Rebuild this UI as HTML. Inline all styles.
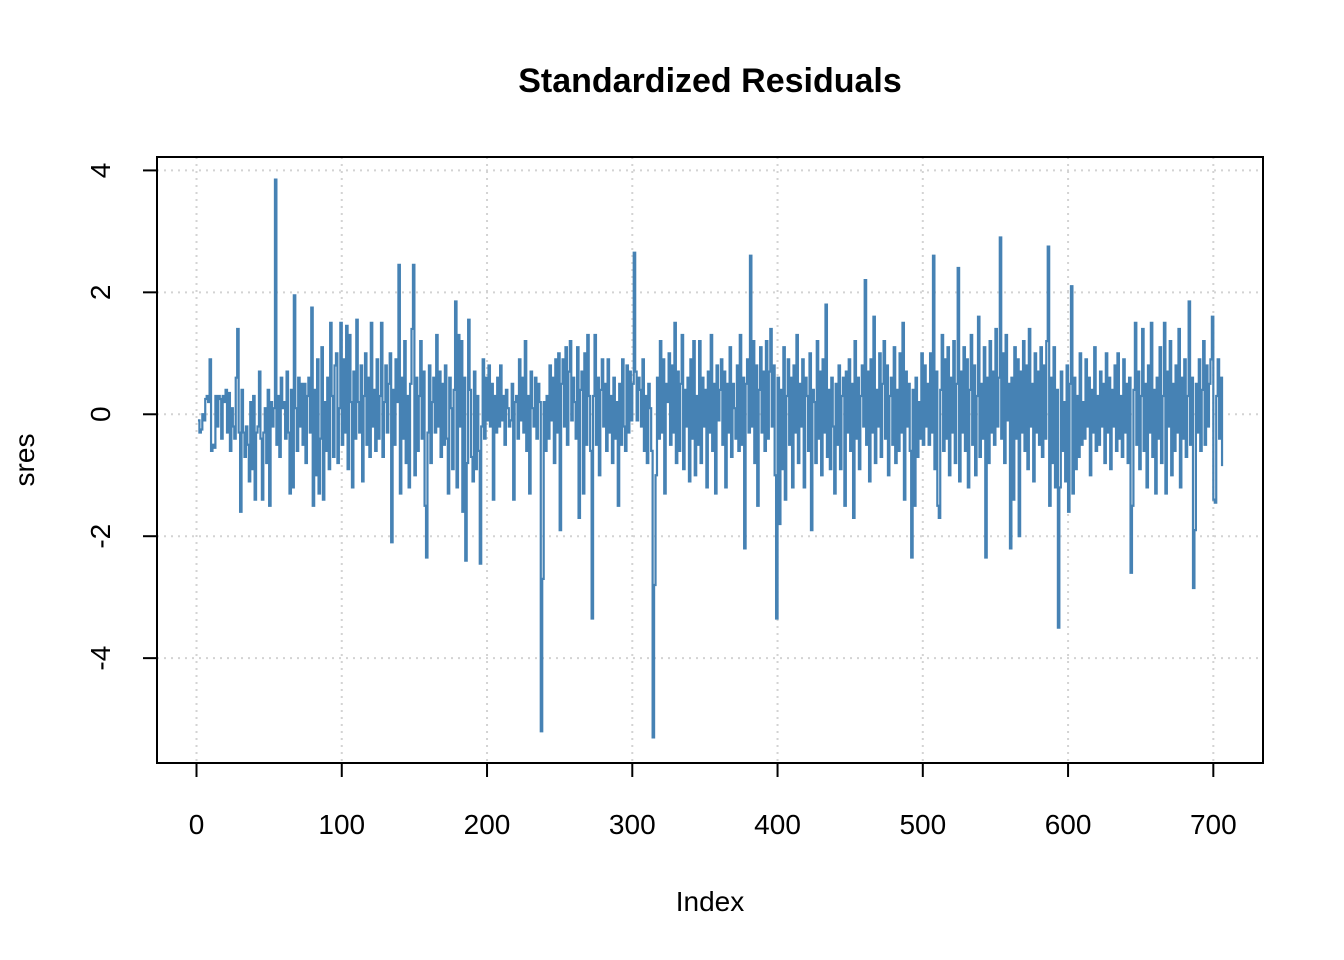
<!DOCTYPE html>
<html><head><meta charset="utf-8"><style>
body{margin:0;background:#fff;}
svg{display:block;font-family:"Liberation Sans",Arial,sans-serif;}
</style></head><body>
<svg id="chart" width="1344" height="960">
<text x="710" y="92" text-anchor="middle" font-size="34" font-weight="bold">Standardized Residuals</text>
<text x="710" y="911" text-anchor="middle" font-size="28">Index</text>
<text transform="translate(34,460) rotate(-90)" text-anchor="middle" font-size="28">sres</text>
<g id="grid"></g><g id="series"></g><g id="axes"></g>
<rect x="157" y="157" width="1106" height="606" fill="none" stroke="#000" stroke-width="2"/>
</svg>
<script>
const xTicks=[0,100,200,300,400,500,600,700];
const yTicks=[-4,-2,0,2,4];
const sres=[
-0.1,-0.3,-0.25,0.0,-0.1,0.25,0.3,0.2,0.9,-0.6,
-0.5,-0.55,0.3,-0.2,0.3,0.25,-0.4,0.3,0.2,0.4,
-0.3,0.35,-0.6,0.1,-0.2,-0.4,0.6,1.4,-0.3,-1.6,
0.4,-0.3,-0.7,-0.2,-0.5,-1.1,0.2,-0.9,0.3,-1.4,
-0.3,-0.2,0.7,-0.4,-1.4,-0.3,0.1,-0.8,0.4,-1.5,
0.2,-0.2,0.1,3.85,-0.5,0.3,-0.7,0.6,0.1,0.2,
-0.4,0.7,-0.3,-1.3,0.4,-1.2,1.95,0.1,-0.6,0.6,
-0.2,0.5,-0.5,0.5,-0.8,0.3,0.6,-0.3,1.75,-1.5,
0.4,-1.0,0.9,-1.3,-0.4,1.1,-1.4,0.2,-0.6,0.6,
-0.9,1.5,0.3,-0.7,0.8,1.0,-0.8,0.1,1.5,-0.5,
0.9,-0.3,1.45,-0.9,1.3,0.2,-1.2,0.7,-0.4,1.55,
0.2,-0.3,0.8,-1.1,0.3,1.0,-0.5,0.6,-0.7,1.5,
-0.2,0.4,-0.6,0.9,-0.4,0.3,1.5,-0.7,0.2,0.8,
-0.3,0.5,1.0,-2.1,0.4,-0.5,0.9,0.2,2.45,-1.3,
0.6,-0.4,1.2,-0.8,0.3,-1.2,0.5,1.4,2.45,-1.0,
0.6,-0.6,0.3,1.2,-0.4,0.7,-1.5,-2.35,-0.3,0.8,
-0.8,0.2,0.6,-0.3,1.3,-0.2,0.7,-0.7,0.5,-0.5,
0.8,-0.4,-1.3,0.6,0.1,-0.9,0.4,1.85,-1.2,1.3,
-0.2,1.2,-1.6,0.6,-2.4,-0.8,1.55,0.4,-0.7,-1.1,
0.7,-0.9,0.3,-0.6,-2.45,-0.2,0.9,-0.4,0.6,-0.1,
0.8,-0.2,0.5,-1.4,0.3,-0.3,0.6,-0.2,0.8,-0.1,
0.3,-0.5,0.4,0.1,-0.2,-0.1,0.5,-1.4,0.2,0.3,
-0.4,0.9,-0.1,0.6,-0.3,1.2,-0.6,0.3,-1.3,0.7,
0.1,-0.2,0.6,-0.4,0.5,0.2,-5.2,-2.7,0.2,-0.6,
0.3,-0.4,0.8,-0.1,0.6,-0.8,0.9,-0.3,1.0,-1.9,
0.5,0.9,-0.2,1.1,-0.5,0.7,1.2,-0.1,0.6,0.2,
-0.4,1.1,-1.7,0.4,0.7,-1.3,1.0,-0.5,1.3,0.3,
-0.6,-3.35,0.3,1.3,-0.5,0.6,-1.0,0.4,0.9,-0.2,
0.5,-0.6,0.9,-0.3,0.3,-0.8,0.6,-0.4,0.2,-1.5,
0.5,-0.5,0.9,-0.2,-0.6,0.8,-0.3,0.7,-0.1,0.5,
2.65,0.7,-0.1,0.6,0.4,-0.2,0.9,-0.6,0.3,-0.8,
0.5,0.1,-0.6,-5.3,-2.8,-1.0,0.6,-0.4,1.2,-0.3,
0.9,-1.3,0.5,0.2,1.0,-0.5,0.8,-0.3,1.5,-0.8,
0.7,-0.6,0.5,1.3,-0.9,0.4,-0.2,0.6,-1.1,0.9,
-0.4,1.2,-1.0,0.3,-0.5,1.2,-0.8,0.6,-0.2,0.4,
-1.2,0.7,-0.3,1.3,-0.6,0.5,-1.3,0.8,-0.1,0.4,
0.9,-0.5,0.7,-1.2,0.5,-0.3,1.1,-0.7,0.5,0.1,
-0.4,0.8,-0.6,1.3,-0.5,0.6,-2.2,0.5,0.9,-0.3,
2.6,-0.2,1.2,-0.8,0.8,-1.5,0.4,1.1,-0.3,0.7,
-0.6,1.2,-0.4,0.7,1.4,-0.2,0.8,-1.0,-3.35,0.6,
-1.8,0.4,-0.9,1.1,-1.4,0.3,0.9,-0.5,0.6,-1.2,
0.8,-0.3,1.3,-0.8,0.5,-0.2,0.9,-1.2,0.6,0.3,
-0.6,1.0,-1.9,0.4,0.2,-0.8,1.2,-0.4,0.7,-1.0,
0.9,-0.3,1.8,-0.7,0.4,-0.9,0.6,-0.2,-1.3,0.5,
-0.5,0.8,-0.9,0.3,0.6,-1.5,0.7,-0.3,0.9,-0.6,
0.5,-1.7,1.2,-0.4,0.6,-0.9,0.3,0.8,-0.2,2.2,
-0.5,0.7,-1.1,0.9,-0.3,1.6,-0.8,0.4,-0.2,1.0,
-0.7,0.5,1.2,-0.4,0.8,-1.0,0.3,0.6,-0.5,1.1,
-0.8,0.4,-0.6,1.0,-0.3,1.5,-1.4,0.7,-0.2,0.5,
-0.6,-2.35,0.4,-1.5,0.6,-0.7,0.2,-0.4,1.0,-0.5,
0.8,-0.2,0.5,-0.5,1.0,-0.3,2.6,-0.9,0.7,-1.5,
-1.7,0.4,1.3,-0.6,0.9,-0.4,1.1,-1.0,0.6,-0.3,
1.2,-0.8,0.5,2.4,-1.1,0.7,-0.3,1.1,-0.6,0.9,
-1.2,0.4,1.3,-0.5,0.8,-1.0,0.3,1.6,-0.7,0.5,
-0.4,1.1,-2.35,0.6,-0.8,1.2,-0.3,0.7,-0.5,1.4,
-0.2,0.6,2.9,-0.4,1.0,-0.8,1.3,-0.1,0.5,-2.2,
0.6,-1.4,1.1,-0.4,0.9,-2.0,0.7,-0.3,1.2,-0.6,
0.8,-0.9,1.4,-0.2,0.5,-1.1,1.0,-0.3,0.7,-0.5,
1.1,-0.7,0.8,-0.4,1.2,2.75,-1.5,0.6,-0.8,1.1,
-1.2,0.4,-3.5,-1.2,0.7,-0.6,0.2,-1.1,0.8,-1.6,
0.5,2.1,-1.3,0.6,-0.9,0.3,-0.7,1.0,-0.5,0.2,
-0.4,0.9,-0.2,0.6,-1.0,0.4,-0.3,1.1,-0.6,0.3,
-0.5,0.7,-0.2,0.5,-0.8,1.0,-0.3,0.6,-0.9,0.4,
-0.2,0.8,-0.6,1.0,-0.4,0.3,-0.7,0.9,-0.3,0.5,
-0.8,0.6,-2.6,-1.5,0.4,1.5,-0.5,0.7,-0.9,0.3,
1.4,-0.6,0.5,-1.2,0.8,-0.3,1.5,-0.7,0.4,-1.3,
0.6,-0.4,1.1,-0.8,0.3,1.5,-1.3,0.7,-0.2,1.2,
-1.0,0.5,-0.6,0.8,-0.3,1.4,-1.2,0.6,-0.4,0.9,
-0.7,0.3,1.85,-0.5,0.6,-2.85,-1.9,0.5,-0.3,0.9,
-0.6,0.4,1.2,-0.5,0.8,-0.2,0.5,0.9,1.6,-1.4,
-1.45,0.3,0.9,-0.4,0.6,-0.85];

const NS="http://www.w3.org/2000/svg";
const X0=157,X1=1263,Y0=157,Y1=763;
const xmin=-27.2,xmax=734.2,ymin=-5.72,ymax=4.22;
function sx(v){return X0+(v-xmin)/(xmax-xmin)*(X1-X0);}
function sy(v){return Y1-(v-ymin)/(ymax-ymin)*(Y1-Y0);}
function mk(tag,attrs,parent){const e=document.createElementNS(NS,tag);for(const k in attrs)e.setAttribute(k,attrs[k]);parent.appendChild(e);return e;}
const grid=document.getElementById('grid'),axes=document.getElementById('axes'),series=document.getElementById('series');
xTicks.forEach(t=>{
  const g=mk('line',{x1:sx(t),x2:sx(t),y1:Y0,y2:Y1,stroke:'#d3d3d3','stroke-width':2,'stroke-dasharray':'2,5'},grid);
  
  
  const tk=mk('line',{x1:sx(t),x2:sx(t),y1:Y1,y2:Y1+14,stroke:'#000','stroke-width':2},axes);
  
  
  const lb=mk('text',{x:sx(t),y:834,'text-anchor':'middle','font-size':28},axes);
  lb.textContent=t;
  
  
});
const xa=mk('line',{x1:sx(0),x2:sx(700),y1:Y1,y2:Y1,stroke:'#000','stroke-width':2},axes);


yTicks.forEach(t=>{
  const g=mk('line',{x1:X0,x2:X1,y1:sy(t),y2:sy(t),stroke:'#d3d3d3','stroke-width':2,'stroke-dasharray':'2,5'},grid);
  
  
  const tk=mk('line',{x1:X0-14,x2:X0,y1:sy(t),y2:sy(t),stroke:'#000','stroke-width':2},axes);
  
  
  const lb=mk('text',{transform:`translate(110,${sy(t)}) rotate(-90)`,'text-anchor':'middle','font-size':28},axes);
  lb.textContent=t;
  
  
});
let d='';
sres.forEach((v,i)=>{
  const x=sx(i+1).toFixed(2),y=sy(v).toFixed(2);
  if(i===0)d+=`M${x},${y}`;else d+=`H${x}V${y}`;
});
const p=mk('path',{d:d,fill:'none',stroke:'#4682B4','stroke-width':2.2},series);


</script>
</body></html>
